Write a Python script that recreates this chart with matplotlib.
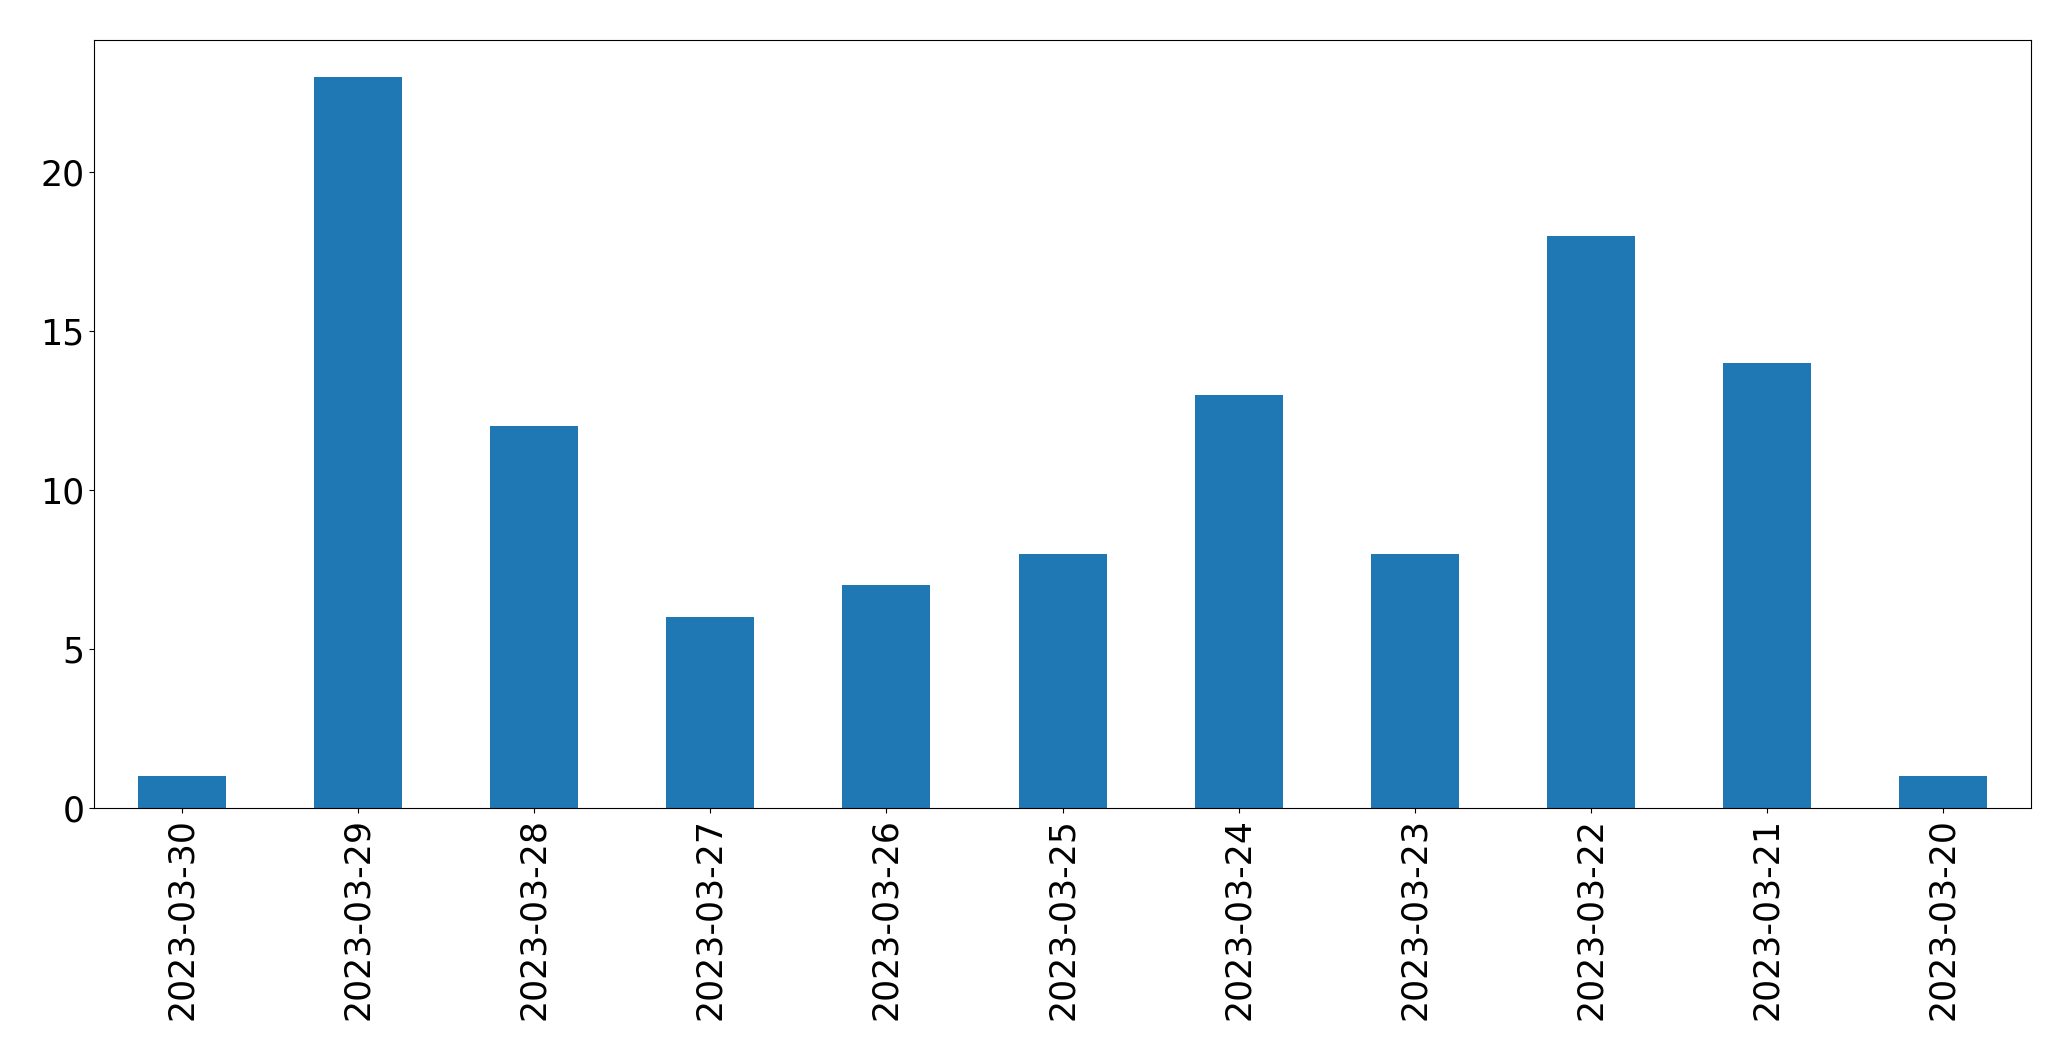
import matplotlib
matplotlib.use("Agg")
import matplotlib.pyplot as plt
import pandas as pd

# Nombre d'occurrences par jour
dates = ["2023-03-30", "2023-03-29", "2023-03-28", "2023-03-27", "2023-03-26", "2023-03-25",
         "2023-03-24", "2023-03-23", "2023-03-22", "2023-03-21", "2023-03-20"]
counts = [1, 23, 12, 6, 7, 8, 13, 8, 18, 14, 1]

serie = pd.Series(counts, index=dates)

fig, ax = plt.subplots(figsize=(20.71, 10.61), dpi=100)
serie.plot(kind="bar", ax=ax, color="#1f77b4", fontsize=25)
ax.tick_params(axis="both", labelsize=25)
plt.xticks(rotation=90)

plt.subplots_adjust(left=0.0454, right=0.9807, top=0.9623, bottom=0.2385)
plt.savefig("out.png", dpi=100)
